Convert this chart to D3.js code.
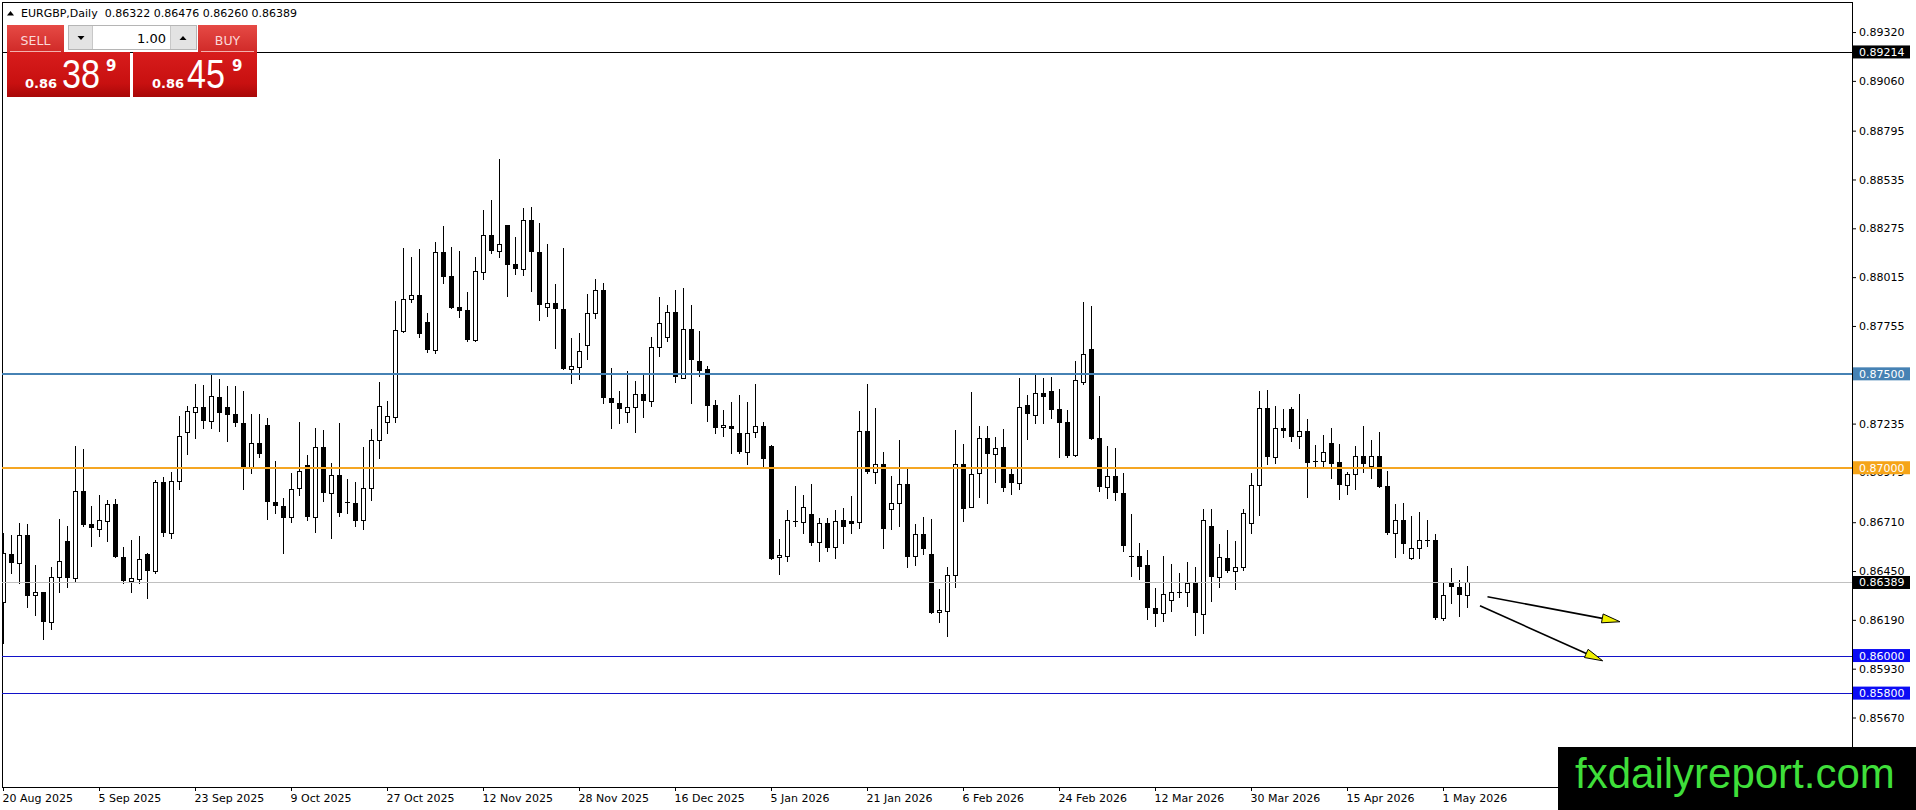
<!DOCTYPE html>
<html>
<head>
<meta charset="utf-8">
<script src="https://cdn.jsdelivr.net/npm/d3@7"></script>
<style>
html,body{margin:0;padding:0;background:#fff;overflow:hidden}
svg{display:block;font-family:"DejaVu Sans",sans-serif}
</style>
</head>
<body>
<svg id="chart" width="1916" height="810"></svg>
<script>
// ---------------- DATA ----------------
const symbolName = "EURGBP,Daily";
const openP = [
.86283,.86540,.86491,.86642,.86320,.86336,.86180,.86420,.86608,.86411,
.86874,.86698,.86672,.86714,.86805,.86523,.86398,.86409,.86540,.86452,
.86922,.86654,.86927,.87188,.87298,.87321,.87250,.87375,.87321,.87286,
.87236,.87006,.87130,.87226,.86816,.86796,.86736,.86890,.87015,.86736,
.87112,.86864,.86961,.86819,.86814,.86722,.86890,.87148,.87244,.87272,
.87730,.87897,.87918,.87774,.87627,.88147,.88021,.87854,.87840,.87680,
.88041,.88238,.88156,.88293,.88083,.88060,.88319,.88151,.87854,.87875,
.87845,.87528,.87538,.87652,.87822,.87946,.87369,.87343,.87295,.87322,
.87391,.87357,.87641,.87698,.87827,.87479,.87737,.87568,.87524,.87334,
.87215,.87222,.87183,.87085,.87188,.87222,.87116,.86523,.86532,.86714,
.86713,.86752,.86603,.86704,.86576,.86722,.86714,.86709,.87194,.86975,
.87018,.86780,.86810,.86912,.86532,.86645,.86539,.86230,.86239,.86429,
.87018,.86793,.86970,.87157,.87071,.87109,.86965,.86917,.87332,.87279,
.87400,.87409,.87313,.87242,.87066,.87458,.87630,.87157,.86899,.86956,
.86864,.86528,.86530,.86482,.86251,.86225,.86296,.86335,.86336,.86384,
.86223,.86690,.86420,.86517,.86452,.86473,.86704,.86906,.87316,.87059,
.87210,.87313,.87167,.87195,.87036,.87034,.87132,.87030,.86906,.86965,
.87061,.87007,.87062,.86903,.86651,.86720,.86517,.86571,.86612,.86613,
.86198,.86384,.86367,.86322
];
const highP = [
.86654,.86642,.86704,.86698,.86482,.86340,.86469,.86725,.86690,.87116,
.87098,.86796,.86855,.86828,.86832,.86576,.86615,.86636,.86545,.86935,
.86949,.86975,.87275,.87329,.87444,.87440,.87497,.87472,.87435,.87435,
.87408,.87286,.87286,.87263,.87036,.86837,.86970,.87245,.87068,.87210,
.87201,.87027,.87236,.86940,.86926,.87112,.87205,.87455,.87355,.87888,
.88172,.88124,.88165,.87822,.88200,.88287,.88177,.88154,.87934,.88124,
.88372,.88426,.88644,.88295,.88230,.88381,.88390,.88305,.88191,.87978,
.88172,.87691,.87719,.87925,.88005,.87982,.87529,.87408,.87515,.87462,
.87499,.87694,.87907,.87866,.87946,.87955,.87866,.87728,.87543,.87361,
.87307,.87348,.87387,.87348,.87444,.87242,.87120,.86619,.86775,.86903,
.86855,.86911,.86730,.86730,.86775,.86784,.86849,.87302,.87446,.87316,
.87082,.86956,.87148,.86997,.86700,.86736,.86727,.86354,.86473,.87201,
.87126,.87401,.87224,.87224,.87162,.87204,.86993,.87476,.87385,.87499,
.87476,.87481,.87419,.87307,.87568,.87881,.87861,.87382,.87116,.87103,
.86974,.86754,.86597,.86562,.86358,.86530,.86486,.86438,.86496,.86470,
.86778,.86778,.86594,.86668,.86610,.86780,.86970,.87408,.87414,.87329,
.87313,.87322,.87393,.87259,.87121,.87174,.87210,.87126,.86979,.87116,
.87222,.87148,.87190,.86982,.86805,.86810,.86745,.86762,.86722,.86647,
.86390,.86464,.86402,.86476
];
const lowP = [
.86065,.86438,.86384,.86260,.86216,.86086,.86139,.86340,.86367,.86398,
.86691,.86585,.86638,.86610,.86523,.86388,.86340,.86384,.86308,.86438,
.86638,.86624,.86887,.87073,.87160,.87213,.87213,.87197,.87144,.87224,
.86885,.86970,.87059,.86725,.86761,.86548,.86713,.86855,.86722,.86656,
.86823,.86628,.86743,.86757,.86690,.86672,.86828,.87050,.87187,.87245,
.87725,.87881,.87694,.87615,.87609,.87982,.87849,.87804,.87677,.87677,
.88005,.88142,.88124,.87916,.88032,.88026,.87943,.87787,.87808,.87639,
.87525,.87449,.87471,.87579,.87799,.87346,.87210,.87236,.87242,.87192,
.87268,.87330,.87597,.87677,.87458,.87476,.87343,.87490,.87251,.87187,
.87171,.87077,.87077,.87018,.87162,.87006,.86512,.86432,.86505,.86690,
.86654,.86588,.86505,.86558,.86517,.86597,.86651,.86681,.86974,.86917,
.86571,.86672,.86691,.86473,.86482,.86539,.86225,.86180,.86106,.86363,
.86718,.86790,.86846,.86814,.86926,.86876,.86858,.86887,.87153,.87240,
.87240,.87263,.87059,.87059,.87060,.87444,.87152,.86878,.86841,.86828,
.86558,.86425,.86406,.86194,.86159,.86186,.86239,.86310,.86265,.86109,
.86120,.86292,.86363,.86443,.86354,.86455,.86654,.86748,.87020,.87027,
.87162,.87144,.87107,.86846,.87006,.87011,.86947,.86832,.86858,.86885,
.86975,.86943,.86896,.86648,.86523,.86544,.86515,.86517,.86585,.86194,
.86189,.86278,.86212,.86260
];
const closeP = [
.86548,.86491,.86642,.86319,.86336,.86177,.86420,.86501,.86414,.86874,
.86697,.86677,.86720,.86805,.86526,.86398,.86411,.86512,.86452,.86922,
.86654,.86927,.87167,.87300,.87321,.87250,.87380,.87293,.87282,.87236,
.87006,.87130,.87071,.86816,.86798,.86734,.86885,.86983,.86736,.87112,
.86864,.86961,.86757,.86810,.86718,.86890,.87148,.87329,.87276,.87732,
.87897,.87918,.87710,.87627,.88147,.88018,.87852,.87836,.87680,.88046,
.88238,.88156,.88190,.88080,.88060,.88319,.88151,.87868,.87875,.87844,
.87528,.87542,.87622,.87822,.87946,.87369,.87343,.87311,.87322,.87391,
.87357,.87641,.87769,.87827,.87481,.87737,.87574,.87517,.87330,.87213,
.87226,.87208,.87085,.87183,.87222,.87045,.86516,.86533,.86722,.86718,
.86789,.86601,.86704,.86574,.86714,.86686,.86702,.87194,.86975,.87018,
.86672,.86810,.86912,.86526,.86645,.86565,.86228,.86242,.86429,.87018,
.86782,.86965,.87157,.87071,.87107,.86894,.86917,.87325,.87284,.87400,
.87378,.87309,.87240,.87062,.87467,.87604,.87155,.86899,.86956,.86864,
.86583,.86526,.86473,.86251,.86219,.86326,.86336,.86338,.86384,.86228,
.86720,.86420,.86523,.86452,.86473,.86757,.86906,.87316,.87059,.87210,
.87197,.87165,.87194,.87027,.87035,.87082,.87022,.86910,.86965,.87061,
.87022,.87061,.86899,.86651,.86720,.86592,.86571,.86613,.86613,.86198,
.86320,.86367,.86320,.86389
];
const xTickIndex = [0,12,24,36,48,60,72,84,96,108,120,132,144,156,168,180];
const xTickLabels = ["20 Aug 2025","5 Sep 2025","23 Sep 2025","9 Oct 2025","27 Oct 2025",
  "12 Nov 2025","28 Nov 2025","16 Dec 2025","5 Jan 2026","21 Jan 2026","6 Feb 2026",
  "24 Feb 2026","12 Mar 2026","30 Mar 2026","15 Apr 2026","1 May 2026"];
const yTickValues = [0.89320,0.89060,0.88795,0.88535,0.88275,0.88015,0.87755,0.87495,
  0.87235,0.86975,0.86710,0.86450,0.86190,0.85930,0.85670];
const levelPrices = [0.89214, 0.87500, 0.87000, 0.86389, 0.86000, 0.85800];
// arrows: [barIndex, price] start -> end
const arrowStarts = [[185.5, 0.86313],[184.56, 0.86265]];
const arrowEnds   = [[202.06, 0.86180],[199.9, 0.85972]];
const sellQuote = ["0.86","38","9"];
const buyQuote  = ["0.86","45","9"];
const lotSize = "1.00";
const watermarkText = "fxdailyreport.com";

// ---------------- DRAW ----------------
const svg = d3.select("#chart");
const PL = 2, PT = 2, PR = 1852, PB = 787;
const x = d3.scaleLinear().domain([0, 231]).range([3.5, 3.5 + 8 * 231]);
const y = d3.scaleLinear().domain([0.853, 0.8948]).range([787, 2]);
const f5 = d3.format(".5f");

const defs = svg.append("defs");
defs.append("clipPath").attr("id","plotclip").append("rect")
  .attr("x",PL+1).attr("y",PT+1).attr("width",PR-PL-1).attr("height",PB-PT-1);
const gBtn = defs.append("linearGradient").attr("id","gBtn").attr("x1",0).attr("y1",0).attr("x2",0).attr("y2",1);
gBtn.append("stop").attr("offset","0%").attr("stop-color","#e64a45");
gBtn.append("stop").attr("offset","100%").attr("stop-color","#d02a28");
const gPx = defs.append("linearGradient").attr("id","gPx").attr("x1",0).attr("y1",0).attr("x2",0).attr("y2",1);
gPx.append("stop").attr("offset","0%").attr("stop-color","#d81c1c");
gPx.append("stop").attr("offset","70%").attr("stop-color","#c81010");
gPx.append("stop").attr("offset","100%").attr("stop-color","#a80808");

// frame
svg.append("rect").attr("x",PL+0.5).attr("y",PT+0.5)
  .attr("width",PR-PL).attr("height",PB-PT)
  .attr("fill","#fff").attr("stroke","#000").attr("stroke-width",1);

// candles
const idx = d3.range(openP.length);
const cg = svg.append("g").attr("clip-path","url(#plotclip)").attr("shape-rendering","crispEdges");
cg.selectAll("line.wick").data(idx).join("line").attr("class","wick")
  .attr("x1", i => x(i)).attr("x2", i => x(i))
  .attr("y1", i => Math.round(y(highP[i]))).attr("y2", i => Math.round(y(lowP[i])) + 1)
  .attr("stroke","#000").attr("stroke-width",1);
cg.selectAll("rect.body").data(idx).join("rect").attr("class","body")
  .each(function(i){
    const yo = Math.round(y(openP[i])), yc = Math.round(y(closeP[i]));
    const r = d3.select(this);
    if (closeP[i] < openP[i]) {
      r.attr("x", x(i) - 2.5).attr("width", 5).attr("y", yo).attr("height", Math.max(1, yc - yo))
       .attr("fill","#000");
    } else if (yo - yc >= 2) {
      r.attr("x", x(i) - 2).attr("width", 4).attr("y", yc + 0.5).attr("height", yo - yc)
       .attr("fill","#fff").attr("stroke","#000").attr("stroke-width",1);
    } else {
      r.attr("x", x(i) - 2.5).attr("width", 5).attr("y", yc).attr("height", 1).attr("fill","#000");
    }
  });

// level lines
const levelColor = ["#000000","#4682b4","#f5a623","#c0c0c0","#1212c8","#1212c8"];
const levelWidth = [1,2,2,1,1,1];
const levelLabelBg = ["#000000","#4682b4","#f5a418","#000000","#0c0cf5","#0c0cf5"];
svg.append("g").selectAll("line").data(levelPrices).join("line")
  .attr("x1", PL).attr("x2", PR)
  .attr("y1", (d,i) => levelWidth[i] === 1 ? Math.round(y(d)) + 0.5 : Math.round(y(d)))
  .attr("y2", (d,i) => levelWidth[i] === 1 ? Math.round(y(d)) + 0.5 : Math.round(y(d)))
  .attr("stroke", (d,i) => levelColor[i]).attr("stroke-width", (d,i) => levelWidth[i]);

// arrows
const ag = svg.append("g");
arrowStarts.forEach((s, k) => {
  const e = arrowEnds[k];
  const x1 = x(s[0]), y1 = y(s[1]), x2 = x(e[0]), y2 = y(e[1]);
  const ang = Math.atan2(y2 - y1, x2 - x1);
  const len = 18, hw = 4.5;
  const bx = x2 - len * Math.cos(ang), by = y2 - len * Math.sin(ang);
  ag.append("line").attr("x1",x1).attr("y1",y1).attr("x2",bx).attr("y2",by)
    .attr("stroke","#000").attr("stroke-width",1.6);
  const p = [[x2,y2],[bx - hw*Math.sin(ang), by + hw*Math.cos(ang)],[bx + hw*Math.sin(ang), by - hw*Math.cos(ang)]];
  ag.append("path").attr("d", d3.line()(p) + "Z")
    .attr("fill","#f0f000").attr("stroke","#000").attr("stroke-width",1);
});

// y axis
const yAxis = d3.axisRight(y).tickValues(yTickValues).tickSize(4).tickPadding(3).tickFormat(f5);
const ya = svg.append("g").attr("transform",`translate(${PR},0)`).call(yAxis);
ya.select(".domain").remove();
ya.selectAll("text").attr("font-family","DejaVu Sans").attr("font-size",11).attr("fill","#000");
ya.selectAll("line").attr("stroke","#000");

// level labels
const lg = svg.append("g");
levelPrices.forEach((p, i) => {
  const yy = y(p);
  lg.append("rect").attr("x", PR + 1).attr("y", yy - 6.5).attr("width", 57).attr("height", 13)
    .attr("fill", levelLabelBg[i]);
  lg.append("text").attr("x", PR + 7).attr("y", yy).attr("dy","0.36em")
    .attr("font-size",11).attr("fill","#fff").text(f5(p));
});

// x axis
const xAxis = d3.axisBottom(x).tickValues(xTickIndex).tickSize(4).tickPadding(3)
  .tickFormat((d,i) => xTickLabels[i]).offset(0);
const xa = svg.append("g").attr("transform",`translate(0,${PB})`).call(xAxis);
xa.select(".domain").remove();
xa.selectAll("text").attr("text-anchor","start").attr("x",-1)
  .attr("font-family","DejaVu Sans").attr("font-size",11).attr("fill","#000");
xa.selectAll("line").attr("stroke","#000");

// header
const last = openP.length - 1;
svg.append("path").attr("d","M7,15.5L10.5,11L14,15.5Z").attr("fill","#000");
svg.append("text").attr("x",21).attr("y",17).attr("font-size",11).attr("fill","#000")
  .style("white-space","pre")
  .text(symbolName + "  " + [openP[last],highP[last],lowP[last],closeP[last]].map(f5).join(" "));

// trading panel
const tp = svg.append("g");
// buttons
[[7,57,"SELL"],[198,59,"BUY"]].forEach(b => {
  tp.append("rect").attr("x",b[0]).attr("y",25).attr("width",b[1]).attr("height",27).attr("fill","url(#gBtn)");
  tp.append("text").attr("x",b[0]+b[1]/2).attr("y",44.5).attr("text-anchor","middle")
    .attr("font-size",12.5).attr("fill","#fbd9d9").text(b[2]);
  tp.append("line").attr("x1",b[0]+3).attr("x2",b[0]+b[1]-3).attr("y1",51.5).attr("y2",51.5)
    .attr("stroke","#f3b0ae").attr("stroke-width",1);
});
// lot box
tp.append("rect").attr("x",68.5).attr("y",25.5).attr("width",128).attr("height",24).attr("fill","#e3e3e3").attr("stroke","#b5b5b5");
tp.append("rect").attr("x",93).attr("y",26).attr("width",77).attr("height",23).attr("fill","#fff");
tp.append("line").attr("x1",92.5).attr("x2",92.5).attr("y1",26).attr("y2",49).attr("stroke","#c8c8c8");
tp.append("line").attr("x1",170.5).attr("x2",170.5).attr("y1",26).attr("y2",49).attr("stroke","#c8c8c8");
tp.append("path").attr("d","M77.5,36L84.5,36L81,40Z").attr("fill","#000");
tp.append("path").attr("d","M179.5,40L186.5,40L183,36Z").attr("fill","#000");
tp.append("text").attr("x",166).attr("y",42.5).attr("text-anchor","end").attr("font-size",13).attr("fill","#000").text(lotSize);
// price boxes
[[7,123,sellQuote,25,62,106],[133,124,buyQuote,152,187,232]].forEach(b => {
  tp.append("rect").attr("x",b[0]).attr("y",52).attr("width",b[1]).attr("height",45).attr("fill","url(#gPx)");
  tp.append("text").attr("x",b[3]).attr("y",87.5).attr("font-size",13).attr("font-weight","bold")
    .attr("fill","#fff").text(b[2][0]);
  tp.append("text").attr("x",b[4]).attr("y",87.5).attr("font-family","Liberation Sans")
    .attr("font-size",40).attr("fill","#fff").attr("textLength",38).attr("lengthAdjust","spacingAndGlyphs").text(b[2][1]);
  tp.append("text").attr("x",b[5]).attr("y",71).attr("font-size",15).attr("font-weight","bold")
    .attr("fill","#fff").text(b[2][2]);
});

// watermark
svg.append("rect").attr("x",1558).attr("y",747).attr("width",358).attr("height",63).attr("fill","#000");
svg.append("text").attr("x",1575).attr("y",788).attr("font-family","Liberation Sans")
  .attr("font-size",42).attr("fill","#3fdf3a").text(watermarkText);
</script>
</body>
</html>
